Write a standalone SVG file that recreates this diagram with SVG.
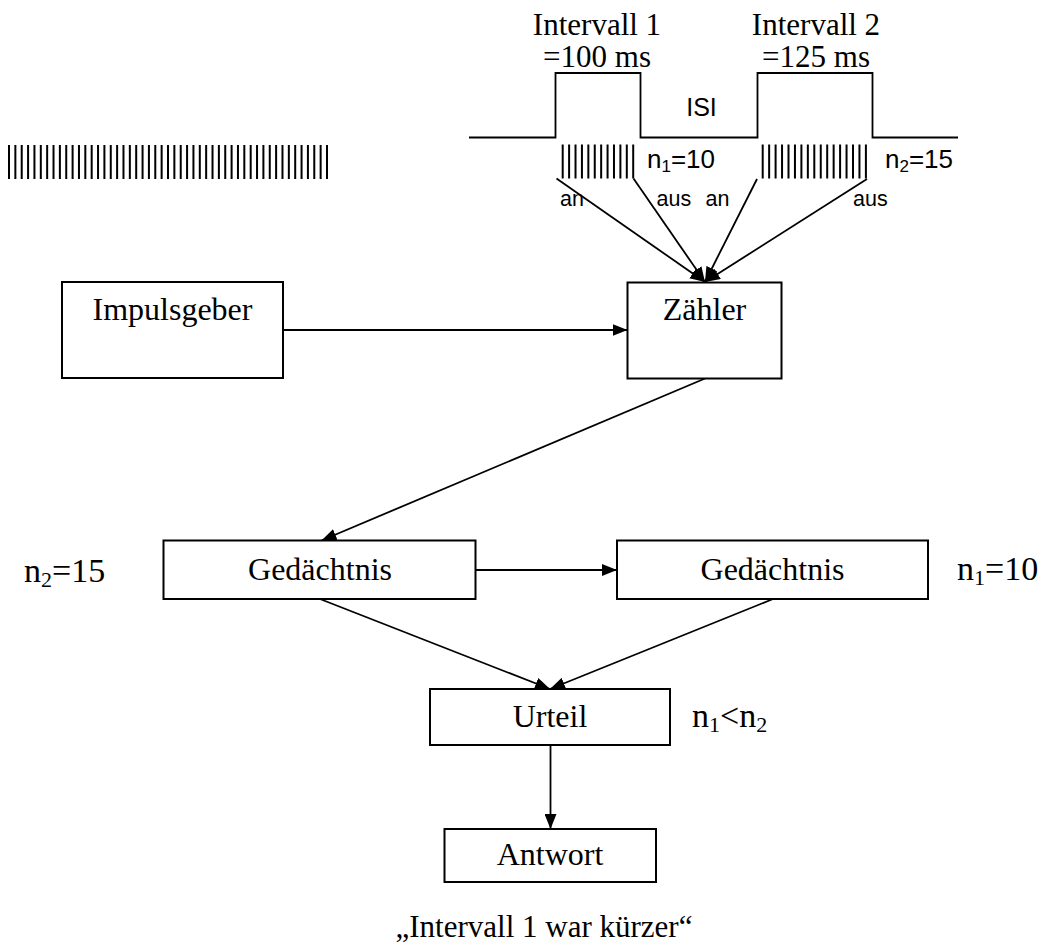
<svg xmlns="http://www.w3.org/2000/svg" width="1054" height="944" viewBox="0 0 1054 944">
<defs>
<marker id="ah" markerWidth="15" markerHeight="12" refX="15" refY="6" orient="auto" markerUnits="userSpaceOnUse">
<path d="M0,0 L15,6 L0,12 Z" fill="#000"/>
</marker>
<style>
.box{fill:#fff;stroke:#000;stroke-width:2}
.ln{fill:none;stroke:#000;stroke-width:1.8}
.ser{font-family:"Liberation Serif","Times New Roman",serif;font-size:31px;fill:#000}
.node{font-size:32px}
.lab{font-size:34px}
.sans{font-family:"Liberation Sans",Arial,sans-serif;fill:#000}
.tick{stroke:#000;stroke-width:34;fill:none}
</style>
</defs>
<rect width="1054" height="944" fill="#fff"/>

<g id="pulses-left">
<line class="tick" x1="8" y1="162" x2="328" y2="162" stroke-dasharray="2 4.36"/>
</g>

<g id="timeline">
<path class="ln" stroke-width="2" d="M469,137.5 H555.5 V73 H640.5 V137.5 H757.5 V73 H872.5 V137.5 H958"/>
<text class="ser" x="597" y="35" text-anchor="middle">Intervall 1</text>
<text class="ser" x="816" y="35" text-anchor="middle">Intervall 2</text>
<text class="ser" x="597" y="67" text-anchor="middle" font-size="26.5">=100 ms</text>
<text class="ser" x="816" y="67" text-anchor="middle" font-size="26.5">=125 ms</text>
<text class="sans" x="701.5" y="115.5" text-anchor="middle" font-size="25">ISI</text>
<line class="tick" x1="561.7" y1="161.5" x2="634.2" y2="161.5" stroke-dasharray="2 4.41"/>
<line class="tick" x1="761.7" y1="161.5" x2="867" y2="161.5" stroke-dasharray="2 4.45"/>
<text class="sans" x="647" y="168" font-size="26">n<tspan font-size="17" dy="4">1</tspan><tspan dy="-4">=10</tspan></text>
<text class="sans" x="885" y="168" font-size="26">n<tspan font-size="17" dy="4">2</tspan><tspan dy="-4">=15</tspan></text>
<text class="sans" x="560" y="206" font-size="21.5">an</text>
<text class="sans" x="656.5" y="206" font-size="21.5">aus</text>
<text class="sans" x="705.5" y="206" font-size="21.5">an</text>
<text class="sans" x="853" y="206" font-size="21.5">aus</text>
</g>

<g id="connectors">
<line class="ln" x1="556.5" y1="178.5" x2="705" y2="282" marker-end="url(#ah)"/>
<line class="ln" x1="633.5" y1="178.5" x2="705" y2="282" marker-end="url(#ah)"/>
<line class="ln" x1="757" y1="179" x2="705" y2="282" marker-end="url(#ah)"/>
<line class="ln" x1="867" y1="179" x2="705" y2="282" marker-end="url(#ah)"/>
<line class="ln" x1="283" y1="330" x2="627.5" y2="330" marker-end="url(#ah)"/>
<line class="ln" x1="705" y1="378.5" x2="321.5" y2="540.5" marker-end="url(#ah)"/>
<line class="ln" x1="476" y1="570" x2="617" y2="570" marker-end="url(#ah)"/>
<line class="ln" x1="320" y1="599" x2="550" y2="689" marker-end="url(#ah)"/>
<line class="ln" x1="773" y1="599" x2="550" y2="689" marker-end="url(#ah)"/>
<line class="ln" x1="550.5" y1="745" x2="550.5" y2="829" marker-end="url(#ah)"/>
</g>

<g id="impulsgeber">
<rect class="box" x="62" y="282" width="221" height="96"/>
<text class="ser node" x="172.5" y="320" text-anchor="middle">Impulsgeber</text>
</g>

<g id="zaehler">
<rect class="box" x="627.5" y="282.5" width="154" height="96"/>
<text class="ser node" x="704.5" y="320" text-anchor="middle">Zähler</text>
</g>

<g id="gedaechtnis-1">
<rect class="box" x="163.5" y="540.5" width="312" height="58.5"/>
<text class="ser node" x="320" y="580" text-anchor="middle">Gedächtnis</text>
</g>

<g id="gedaechtnis-2">
<rect class="box" x="617" y="540.5" width="311" height="58.5"/>
<text class="ser node" x="772.5" y="580" text-anchor="middle">Gedächtnis</text>
</g>

<g id="urteil">
<rect class="box" x="430" y="689" width="240" height="56"/>
<text class="ser node" x="550" y="726.5" text-anchor="middle">Urteil</text>
</g>

<g id="antwort">
<rect class="box" x="444.5" y="829" width="211.5" height="53"/>
<text class="ser node" x="550" y="865" text-anchor="middle">Antwort</text>
</g>

<g id="labels">
<text class="ser lab" x="24" y="582">n<tspan font-size="22" dy="5">2</tspan><tspan dy="-5">=15</tspan></text>
<text class="ser lab" x="957" y="580">n<tspan font-size="22" dy="5">1</tspan><tspan dy="-5">=10</tspan></text>
<text class="ser lab" x="692" y="727">n<tspan font-size="22" dy="5">1</tspan><tspan dy="-5">&lt;n</tspan><tspan font-size="22" dy="5">2</tspan></text>
<text class="ser" x="544" y="937" text-anchor="middle">„Intervall 1 war kürzer“</text>
</g>
</svg>
